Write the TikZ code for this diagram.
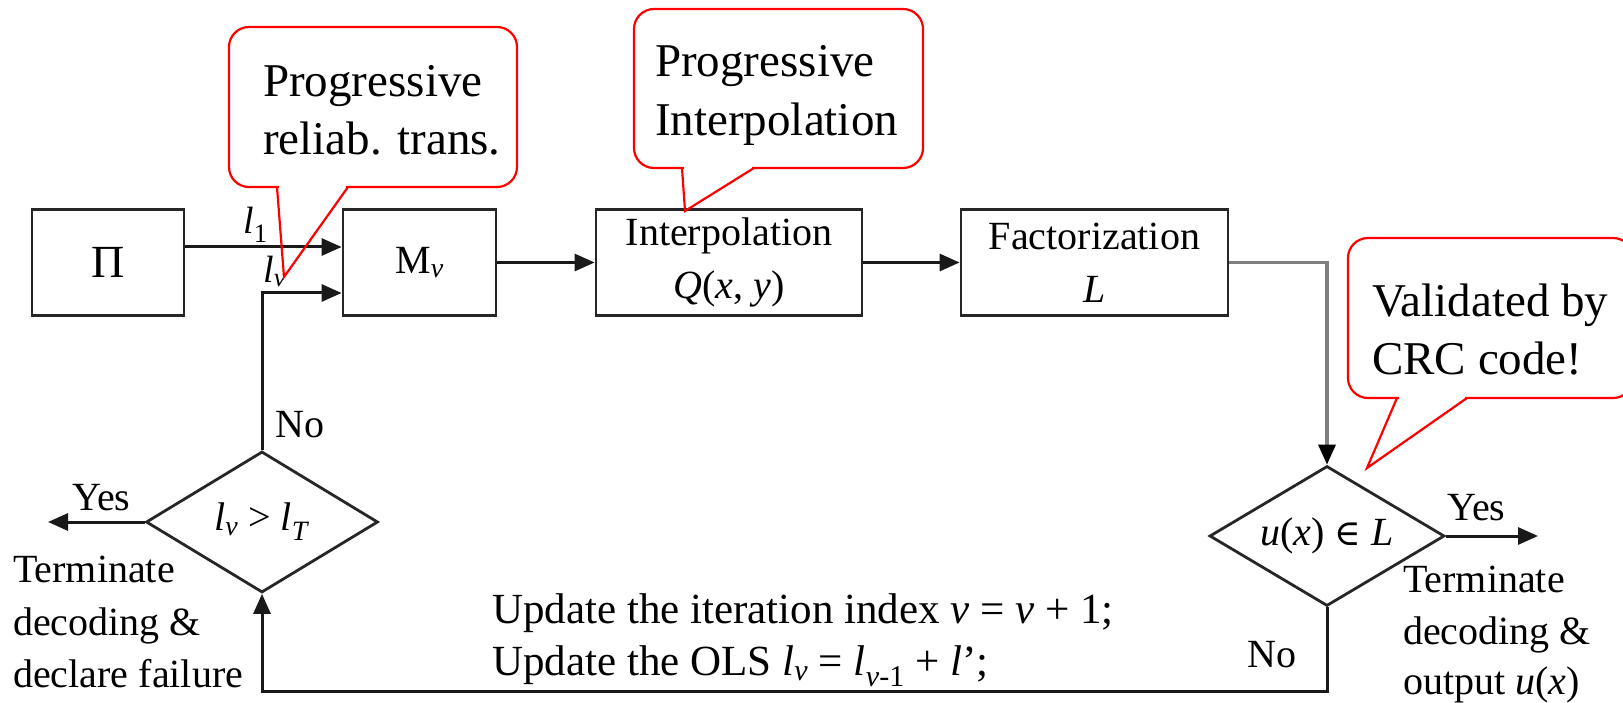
\documentclass[tikz,border=0pt]{standalone}
\usepackage{fontspec}
\setmainfont{Liberation Serif}
\newfontfamily\symfnt{DejaVu Serif}
\usetikzlibrary{arrows.meta,shapes.geometric}
\newcommand\fsz[2]{\fontsize{#1}{#2}\selectfont}
\begin{document}
\begin{tikzpicture}[x=1pt,y=-1pt,
  box/.style={draw=black!85, line width=2.8pt, rectangle, inner sep=0pt, align=center, font=\fsz{40}{53}},
  dia/.style={draw=black!85, line width=2.8pt, diamond, aspect=1.66, inner sep=0pt, font=\fsz{40}{53}},
  arr/.style={draw=black!90, line width=3pt, -{Triangle[length=20pt,width=17pt]}},
  grayarr/.style={draw=black!50, line width=3.2pt, -{Triangle[length=20pt,width=17pt,color=black]}},
  lbl/.style={inner sep=0pt, font=\fsz{40}{53}},
  small/.style={inner sep=0pt, font=\fsz{38}{44}},
  bottomtxt/.style={inner sep=0pt, font=\fsz{43}{52}},
  calltxt/.style={inner sep=0pt, font=\fsz{47}{58}},
  callout/.style={draw=red, line width=2.2pt, rounded corners=20pt, fill=white},
  tail/.style={draw=red, line width=2.2pt, line join=miter}
]
\useasboundingbox (0,0) rectangle (1623,703);

% boxes
\node[box, minimum width=152pt, minimum height=106pt, font=\fsz{46}{53}] (pi) at (108,262.5) {Π};
\node[box, minimum width=153pt, minimum height=106pt] (mv) at (419.5,262.5) {M\textsubscript{\textit{v}}};
\node[box, minimum width=266pt, minimum height=106pt] (interp) at (729,262.5) {Interpolation\\\textit{Q}(\textit{x}, \textit{y})};
\node[box, minimum width=267pt, minimum height=106pt] (fact) at (1094.5,262.5) {Factorization\\\textit{L}};

% diamonds
\node[dia, minimum width=232pt, minimum height=141pt] (d1) at (262,522) {\textit{l}\textsubscript{\textit{v}} > \textit{l}\textsubscript{\textit{T}}};
\node[dia, minimum width=235pt, minimum height=140pt] (d2) at (1327,536) {\textit{u}(\textit{x}) {\symfnt\fsz{36}{44}∈} \textit{L}};

% helper coordinates
\coordinate (l1y) at (0,247);
\coordinate (lvy) at (0,293);
\coordinate (bot) at (0,691);
\coordinate (yes1end) at (48,522);
\coordinate (yes2end) at (1538,536);

% connectors
\draw[arr] (pi.east |- l1y) -- (mv.west |- l1y);
\draw[arr] (d1.north) -- (d1.north |- lvy) -- (mv.west |- lvy);
\draw[arr] (mv) -- (interp);
\draw[arr] (interp) -- (fact);
\draw[grayarr] (fact.east) -| (d2.north);
\draw[arr] (d2.east) -- (yes2end);
\draw[arr] (d1.west) -- (yes1end);
\draw[arr] (d2.south) -- (d2.south |- bot) -- (d1.south |- bot) -- (d1.south);

% labels
\node[small, anchor=base west] (l1) at (243,234) {\textit{l}\textsubscript{1}};
\node[small, anchor=base west] (lv) at (263,283) {\textit{l}\textsubscript{\textit{v}}};
\node[lbl, anchor=base west] (no1) at (275,437) {No};
\node[lbl, anchor=base west] (yes1) at (72,510) {Yes};
\node[lbl, anchor=base west] (yes2) at (1447,520) {Yes};
\node[lbl, anchor=base west] (no2) at (1247,667) {No};
\node[lbl, anchor=base west] (tl1) at (13,582) {Terminate};
\node[lbl, anchor=base west] (tl2) at (13,635) {decoding \&};
\node[lbl, anchor=base west] (tl3) at (13,687) {declare failure};
\node[lbl, anchor=base west] (tr1) at (1403,592) {Terminate};
\node[lbl, anchor=base west] (tr2) at (1403,644) {decoding \&};
\node[lbl, anchor=base west] (tr3) at (1403,694) {output \textit{u}(\textit{x})};
\node[bottomtxt, anchor=base west] (up1) at (492,623) {Update the iteration index \textit{v} = \textit{v} + 1;};
\node[bottomtxt, anchor=base west] (up2) at (492,675) {Update the OLS \textit{l}\textsubscript{\textit{v}} = \textit{l}\textsubscript{\textit{v}-1} + \textit{l}’;};

% callout 1
\draw[callout] (229,27) rectangle (517,187);
\fill[white] (279,184) rectangle (346,189.5);
\draw[tail] (277,187) -- (284,277) -- (348,187);
\node[calltxt, anchor=base west] (c1a) at (263,97) {Progressive};
\node[calltxt, anchor=base west] (c1b) at (263,155) {reliab. trans.};

% callout 2
\draw[callout] (634,9) rectangle (923,168);
\fill[white] (684,165) rectangle (752,170.5);
\draw[tail] (682,168) -- (685,211) -- (754,168);
\node[calltxt, anchor=base west] (c2a) at (655,77) {Progressive};
\node[calltxt, anchor=base west] (c2b) at (655,136) {Interpolation};

% callout 3 (cut by the right edge)
\begin{scope}
\clip (0,0) rectangle (1623,703);
\draw[callout] (1348,238) rectangle (1633,398);
\fill[white] (1399,395) rectangle (1465,400.5);
\draw[tail] (1397,398) -- (1367,468) -- (1467,398);
\end{scope}
\node[calltxt, anchor=base west] (c3a) at (1372,317) {Validated by};
\node[calltxt, anchor=base west] (c3b) at (1372,374) {CRC code!};
\end{tikzpicture}
\end{document}
